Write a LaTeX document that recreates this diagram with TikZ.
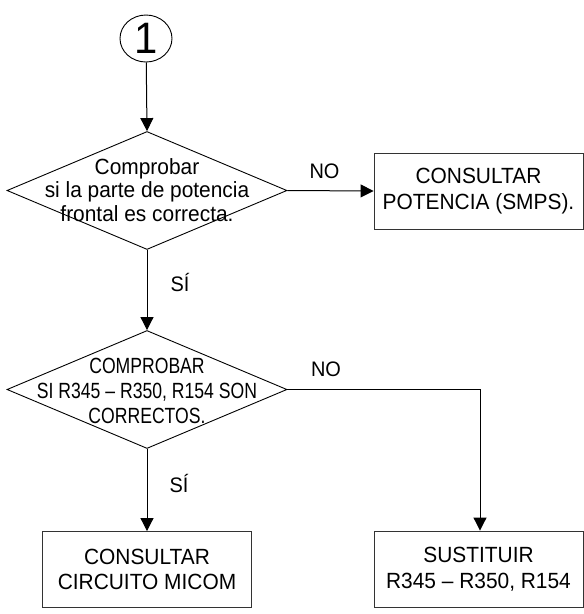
\documentclass[tikz,border=0pt]{standalone}
\usepackage{fontspec}
\setmainfont[FakeStretch=0.95]{Liberation Sans}
\newfontfamily\narrowsf[Ligatures=TeX,FakeStretch=0.8]{Liberation Sans}
\usepackage{tikz}
\usetikzlibrary{shapes.geometric,arrows.meta}

\begin{document}
\begin{tikzpicture}[x=1pt,y=-1pt]
\tikzset{decision/.style = {shape=diamond,draw,line width=0.9pt,inner sep=0pt,minimum width=280pt,minimum height=118pt}}
\tikzset{block/.style = {draw=black!80,line width=0.9pt,align=center,font=\fontsize{22}{25.5}\selectfont,minimum width=209pt,minimum height=76pt,inner sep=0pt}}
\tikzset{edge/.style = {->,line width=1pt,>={Triangle[length=13pt,width=13pt]}}}
\tikzset{lbl/.style = {font=\fontsize{21}{24}\selectfont,inner sep=0pt}}
\useasboundingbox (0,0) rectangle (584,614);
% start connector
\node[shape=ellipse,draw,line width=0.9pt,minimum width=52pt,minimum height=47pt,inner sep=0pt,font=\fontsize{44}{44}\selectfont] (start) at (146,38.5) {1};
% first test
\node[decision] (d1) at (147,190.5) {};
\node[align=center,font=\fontsize{22}{23.5}\selectfont] (d1txt) at (147,190) {Comprobar\\si la parte de potencia\\frontal es correcta.};
\node[block] (b1) at (478.5,191) {CONSULTAR\\POTENCIA (SMPS).};
% second test
\node[decision] (d2) at (147,389.5) {};
\node[align=center,font=\narrowsf\fontsize{22}{25}\selectfont] (d2txt) at (147,391) {COMPROBAR\\SI R345 -- R350, R154 SON\\CORRECTOS.};
\node[block] (b2) at (147,569.5) {CONSULTAR\\CIRCUITO MICOM};
\node[block] (b3) at (478.5,569) {SUSTITUIR\\R345 -- R350, R154};
\draw[edge] (start) to (d1.north);
\draw[edge] (d1.east) -- node[lbl,above=12pt,pos=0.43] {NO} (b1.west);
\draw[edge] (d1.south) -- node[lbl,right=23pt,pos=0.41] {SÍ} (d2.north);
\draw[edge] (d2.south) -- node[lbl,right=22pt,pos=0.42] {SÍ} (b2.north);
\draw[edge] (d2.east) -| node[lbl,above=12pt,pos=0.1] {NO} (b3.north -| 480,0);
\end{tikzpicture}
\end{document}
